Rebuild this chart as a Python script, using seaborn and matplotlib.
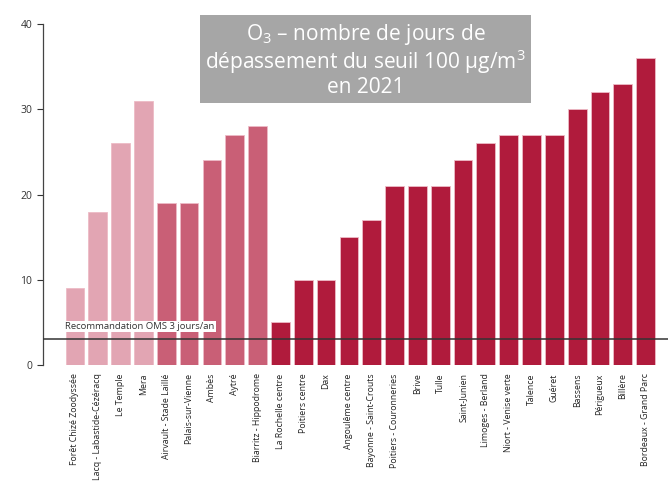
import pandas as pd
import matplotlib
matplotlib.use('Agg')
import matplotlib.pyplot as plt
import seaborn as sns

# Stations and number of days above 100 µg/m3 (O3, 2021)
stations = ['Forêt Chizé Zoodyssée', 'Lacq - Labastide-Cézéracq', 'Le Temple', 'Mera',
            'Airvault - Stade Laillé', 'Palais-sur-Vienne', 'Ambès', 'Aytré',
            'Biarritz - Hippodrome', 'La Rochelle centre', 'Poitiers centre', 'Dax',
            'Angoulême centre', 'Bayonne - Saint-Crouts', 'Poitiers - Couronneries',
            'Brive', 'Tulle', 'Saint-Junien', 'Limoges - Berland', 'Niort - Venise verte',
            'Talence', 'Guéret', 'Bassens', 'Périgueux', 'Billère', 'Bordeaux - Grand Parc']
days = [9, 18, 26, 31, 19, 19, 24, 27, 28, 5, 10, 10, 15, 17, 21, 21, 21, 24, 26, 27,
        27, 27, 30, 32, 33, 36]
groups = ['rural'] * 4 + ['periurbain'] * 5 + ['urbain'] * 17
oms_limit = 3

palette = {'rural': '#E2A5B3', 'periurbain': '#C95F76', 'urbain': '#B01B3C'}

df = pd.DataFrame({'station': stations, 'jours': days, 'groupe': groups})

sns.set_style('white')
plt.rcParams['font.family'] = ['Open Sans', 'DejaVu Sans']
plt.rcParams['mathtext.fontset'] = 'custom'
plt.rcParams['mathtext.rm'] = 'Open Sans'
plt.rcParams['mathtext.default'] = 'rm'

fig = plt.figure(figsize=(6.68, 4.84), dpi=100)
ax = fig.add_axes([0.064, 0.246, 0.936, 0.704])

sns.barplot(data=df, x='station', y='jours', hue='groupe', palette=palette,
            dodge=False, legend=False, width=0.82, saturation=1, ax=ax,
            edgecolor='#EDBBC6', linewidth=0.6)

ax.axhline(oms_limit, color='#333333', lw=1.1, zorder=5)
ax.text(-0.42, 3.95, 'Recommandation OMS 3 jours/an', fontsize=6.8, color='#333333',
        va='bottom', ha='left', zorder=6,
        bbox=dict(facecolor='white', edgecolor='none', pad=0.8))

ax.set_ylim(0, 40)
ax.set_xlim(-1.41, 25.98)
ax.set_yticks([0, 10, 20, 30, 40])
ax.set_xlabel('')
ax.set_ylabel('')
ax.tick_params(axis='y', labelsize=7.5, colors='#333333', length=4, width=0.8, left=True)
ax.tick_params(axis='x', labelsize=6.3, colors='#222222', length=0, pad=6)
for lab in ax.get_xticklabels():
    lab.set_rotation(90)
sns.despine(ax=ax, bottom=True)
ax.spines['left'].set_color('#444444')
ax.spines['left'].set_linewidth(0.9)

fig.text(0.547, 0.876,
         'O$_3$ – nombre de jours de\ndépassement du seuil 100 µg/m$^3$\nen 2021',
         ha='center', va='center', fontsize=15, color='white', linespacing=1.05,
         bbox=dict(facecolor='#A6A6A6', edgecolor='none', boxstyle='square,pad=0.25'))

fig.savefig('out.png', dpi=100)
